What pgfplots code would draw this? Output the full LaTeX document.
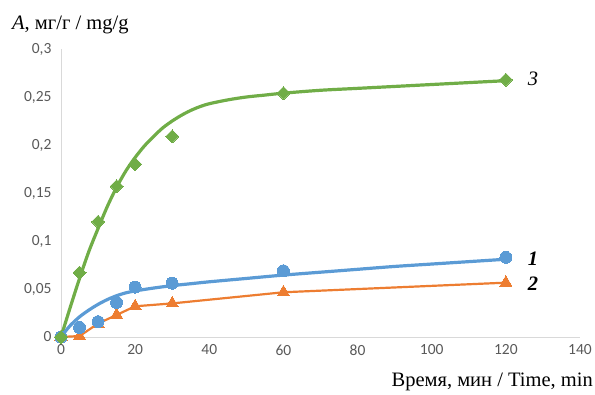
\documentclass[border=0pt]{standalone}
\usepackage{pgfplots}
\pgfplotsset{compat=1.18}
\usepackage{fontspec}
\setmainfont{Liberation Serif}
\newfontfamily\calibri{Carlito}
\definecolor{cblue}{HTML}{5B9BD5}
\definecolor{corange}{HTML}{ED7D31}
\definecolor{cgreen}{HTML}{70AD47}
\definecolor{cgrid}{HTML}{D9D9D9}
\definecolor{ctick}{HTML}{595959}
\begin{document}
\begin{tikzpicture}[x=1pt,y=1pt]
\begin{axis}[
  at={(61pt,57pt)}, anchor=origin,
  scale only axis, width=519pt, height=288pt,
  xmin=0, xmax=140, ymin=0, ymax=0.3,
  axis lines=left, axis line style={-, draw=cgrid, line width=1pt},
  xtick={0,20,...,140}, ytick={0,0.05,...,0.3},
  major tick length=0pt,
  /pgf/number format/assume math mode=true,
  /pgf/number format/use comma,
  yticklabel style={/pgf/number format/fixed, /pgf/number format/precision=2, font=\calibri\fontsize{15.5}{15.5}\selectfont, text=ctick, xshift=-6pt},
  xticklabel style={font=\calibri\fontsize{15.5}{15.5}\selectfont, text=ctick, yshift=-4pt},
  scaled y ticks=false,
  clip=false,
]
% trend curve 3 (green)
\addplot[cgreen, line width=3.2pt, smooth, tension=0.5] coordinates {
 (0,0) (2.5,0.031) (5,0.061) (7.5,0.089) (10,0.113) (12.5,0.136) (15,0.156)
 (17.5,0.173) (20,0.187) (22.5,0.199) (25,0.209) (27.5,0.218) (30,0.225)
 (32.5,0.231) (35,0.236) (37.5,0.240) (40,0.243) (45,0.247) (50,0.250)
 (55,0.252) (60,0.254) (70,0.257) (80,0.259) (90,0.261) (100,0.263)
 (110,0.265) (120,0.267)};
% trend curve 1 (blue)
\addplot[cblue, line width=3.2pt, smooth, tension=0.5] coordinates {
 (0,0) (1,0.005) (2.5,0.012) (5,0.021) (7.5,0.028) (10,0.034) (12.5,0.039)
 (15,0.043) (17.5,0.046) (20,0.048) (25,0.051) (30,0.0535) (35,0.0555)
 (40,0.0575) (50,0.061) (60,0.0645) (70,0.0675) (80,0.0705) (90,0.0735)
 (100,0.076) (110,0.0785) (120,0.081)};
% series 2 (orange), connected
\addplot[corange, line width=2.2pt, mark=triangle*, mark size=7pt, mark options={fill=corange, draw=corange, line width=0pt}] coordinates {
 (0,0) (5,0.001) (10,0.014) (15,0.023) (20,0.032) (30,0.035) (60,0.0466) (120,0.0566)};
% series 1 (blue) markers
\addplot[only marks, mark=*, mark size=6pt, mark options={fill=cblue, draw=cblue, line width=0pt}] coordinates {
 (0,0) (5,0.010) (10,0.016) (15,0.036) (20,0.052) (30,0.056) (60,0.069) (120,0.083)};
% series 3 (green) markers
\addplot[only marks, mark=square*, mark size=4.6pt, mark options={rotate=45, fill=cgreen, draw=cgreen, line width=0pt}] coordinates {
 (0,0) (5,0.067) (10,0.120) (15,0.157) (20,0.180) (30,0.209) (60,0.254) (120,0.268)};
\node[font=\fontsize{20.5}{20.5}\selectfont\itshape, anchor=west] at (axis cs:125,0.269) {3};
\node[font=\fontsize{20.5}{20.5}\selectfont\bfseries\itshape, anchor=west] at (axis cs:125,0.082) {1};
\node[font=\fontsize{20.5}{20.5}\selectfont\bfseries\itshape, anchor=west] at (axis cs:125,0.056) {2};
\end{axis}
\node[anchor=base west, font=\fontsize{20.5}{20.5}\selectfont, inner sep=0pt] at (12pt,364pt) {\textit{A}, мг/г / mg/g};
\node[anchor=base east, font=\fontsize{20.5}{20.5}\selectfont, inner sep=0pt] at (593pt,7pt) {Время, мин / Time, min};
\pgfresetboundingbox
\path (0,0) rectangle (595pt,394pt);
\end{tikzpicture}
\end{document}
